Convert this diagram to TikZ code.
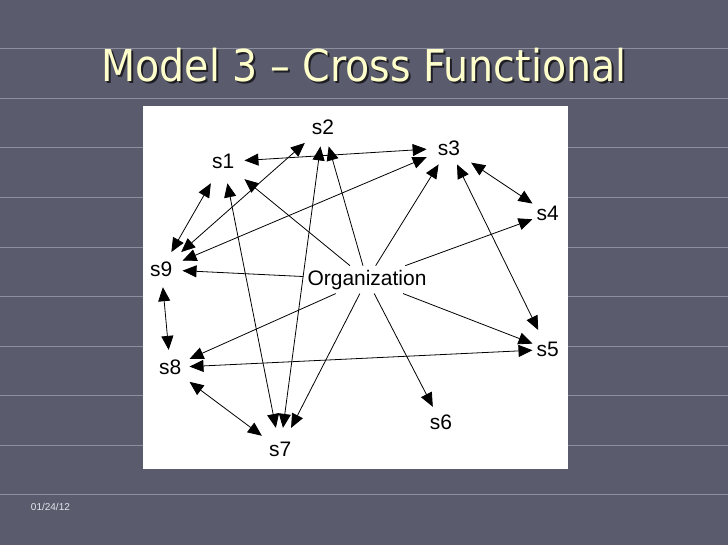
\documentclass[tikz,border=0pt]{standalone}
\usepackage{fontspec}
\setmainfont{Liberation Sans}
\newfontfamily\titlefont{DejaVu Sans Condensed}
\usetikzlibrary{arrows.meta, positioning}
\definecolor{SLIDEbg}{HTML}{5A5C6D}
\definecolor{SLIDErule}{HTML}{8D8E9E}
\definecolor{SLIDEtitle}{HTML}{FFFFCC}
\definecolor{SLIDEshadow}{HTML}{1E1E24}
\definecolor{SLIDEdate}{HTML}{E4E4EC}

\begin{document}
\begin{tikzpicture}[x=1pt, y=-1pt,
      st/.style={font=\fontsize{21}{21}\selectfont, inner sep=8pt},
      arr/.style={-{Triangle[length=14pt, width=12pt]}, line width=0.8pt},
      dbl/.style={{Triangle[length=14pt, width=12pt]}-{Triangle[length=14pt, width=12pt]}, line width=0.8pt},
      ttl/.style={font=\titlefont\fontsize{44}{44}\selectfont, anchor=base}
   ]
      \fill[SLIDEbg] (0,0) rectangle (728,546);
      \foreach \k in {0,...,9}
         \draw[SLIDErule, line width=1pt] (0,49+49.6*\k) -- (728,49+49.6*\k);

      \node[ttl, text=SLIDEshadow] (shadow) at (366,84) {Model 3 – Cross Functional};
      \node[ttl, text=SLIDEtitle] (title) at (364,82) {Model 3 – Cross Functional};
      \node[font=\fontsize{10}{10}\selectfont, text=SLIDEdate, anchor=base west] (date) at (27,511) {01/24/12};

      \fill[white] (143,106) rectangle (568,470);

      \node[st, inner xsep=10pt, inner ysep=14pt] (s1) at (223,162) {s1};
      \node[st, inner xsep=7pt, inner ysep=12pt] (s2) at (323,127) {s2};
      \node[st, inner xsep=11pt, inner ysep=9pt] (s3) at (449,148) {s3};
      \node[st, inner xsep=4pt, inner ysep=6pt] (s4) at (548,214) {s4};
      \node[st, inner xsep=4pt, inner ysep=12pt] (s5) at (548,350) {s5};
      \node[st] (s6) at (441,423) {s6};
      \node[st, inner xsep=7pt, inner ysep=14pt] (s7) at (280,450) {s7};
      \node[st, inner xsep=8pt, inner ysep=10pt] (s8) at (170,368) {s8};
      \node[st, inner sep=10pt] (s9) at (161,270) {s9};
      \node[st, inner sep=4pt] (org) at (367,280) {Organization};

      \foreach \t in {s1,s2,s3,s4,s5,s6,s7,s8,s9}
         \draw[arr] (org) -- (\t);

      \draw[dbl] (s1) -- (s3);
      \draw[dbl] (s1) -- (s9);
      \draw[dbl] (s9) -- (s2);
      \draw[dbl] (s9) -- (s3);
      \draw[dbl] (s9) -- (s8);
      \draw[dbl] (s8) -- (s5);
      \draw[dbl] (s8) -- (s7);
      \draw[dbl] (s1) -- (s7);
      \draw[dbl] (s2) -- (s7);
      \draw[dbl] (s3) -- (s4);
      \draw[dbl] (s3) -- (s5);
   \end{tikzpicture}
\end{document}
